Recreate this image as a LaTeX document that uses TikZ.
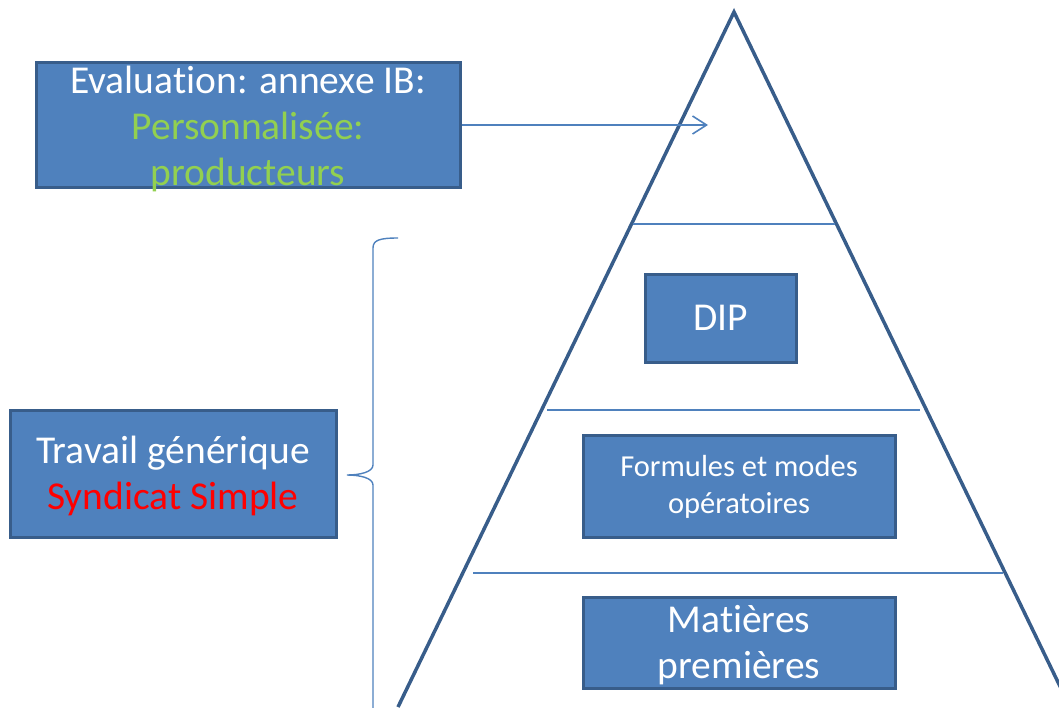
\documentclass[tikz,border=0pt]{standalone}
\usepackage{fontspec}
\setmainfont{Carlito}[Ligatures={NoCommon}]
\usetikzlibrary{arrows.meta}
\definecolor{boxfill}{HTML}{4F81BD}
\definecolor{boxline}{HTML}{385D8A}
\definecolor{greentxt}{HTML}{92D050}
\definecolor{redtxt}{HTML}{FF0000}
\begin{document}
\begin{tikzpicture}[x=1pt,y=-1pt,
  bluebox/.style={draw=boxline, fill=boxfill, line width=3pt, inner sep=0pt},
  boxtext/.style={text=white, align=center, inner sep=0pt, font=\fontsize{39.5}{46}\selectfont},
  smalltext/.style={text=white, align=center, inner sep=0pt, font=\fontsize{30.5}{37}\selectfont},
  pyr/.style={draw=boxline, line width=3.5pt},
  level/.style={draw=boxfill, line width=2pt},
  conn/.style={draw=boxfill, line width=1.6pt}
]
\useasboundingbox (0,0) rectangle (1059,707);
\begin{scope}
\clip (0,0) rectangle (1059,707);
% pyramid
\coordinate (apex) at (734,12);
\coordinate (bl) at (398,707);
\coordinate (br) at (1070,707);
\draw[pyr, line join=miter] (bl) -- (apex) -- (br);
\draw[level] (633,224) -- (835,224);
\draw[level] (547,410) -- (920,410);
\draw[level] (473,573) -- (1003,573);
% brace
\coordinate (bracetop) at (398,238);
\coordinate (bracetip) at (347,475);
\draw[conn, line width=1.4pt] (bracetop) .. controls (380,238) and (373,240) .. (373,248)
  -- (373,465) .. controls (373,472) and (360,475) .. (bracetip)
  .. controls (360,475) and (373,478) .. (373,485) -- (373,712);
\end{scope}
% boxes
\node[bluebox, minimum width=424, minimum height=125] (eval) at (248,124.5) {};
\node[boxtext] at ([yshift=-4]eval.center) {Evaluation: annexe IB:\\\textcolor{greentxt}{Personnalisée:}\\\textcolor{greentxt}{producteurs}};
\node[bluebox, minimum width=326, minimum height=127] (trav) at (173,473.5) {};
\node[boxtext] at ([yshift=-2]trav.center) {Travail générique\\\textcolor{redtxt}{Syndicat Simple}};
\node[bluebox, minimum width=151, minimum height=88] (dip) at (720.5,318) {};
\node[boxtext] at (dip.center) {DIP};
\node[bluebox, minimum width=312, minimum height=102] (form) at (739,486) {};
\node[smalltext] at ([yshift=-1]form.center) {Formules et modes\\opératoires};
\node[bluebox, minimum width=312, minimum height=91] (mat) at (739,642.5) {};
\node[boxtext] at ([yshift=-3]mat.center) {Matières\\premières};
% arrow
\coordinate (arrtip) at (708,125);
\draw[conn, -{Straight Barb[length=14pt,width=18pt,line width=1.6pt]}] (eval.east |- arrtip) -- (arrtip);
\end{tikzpicture}
\end{document}
